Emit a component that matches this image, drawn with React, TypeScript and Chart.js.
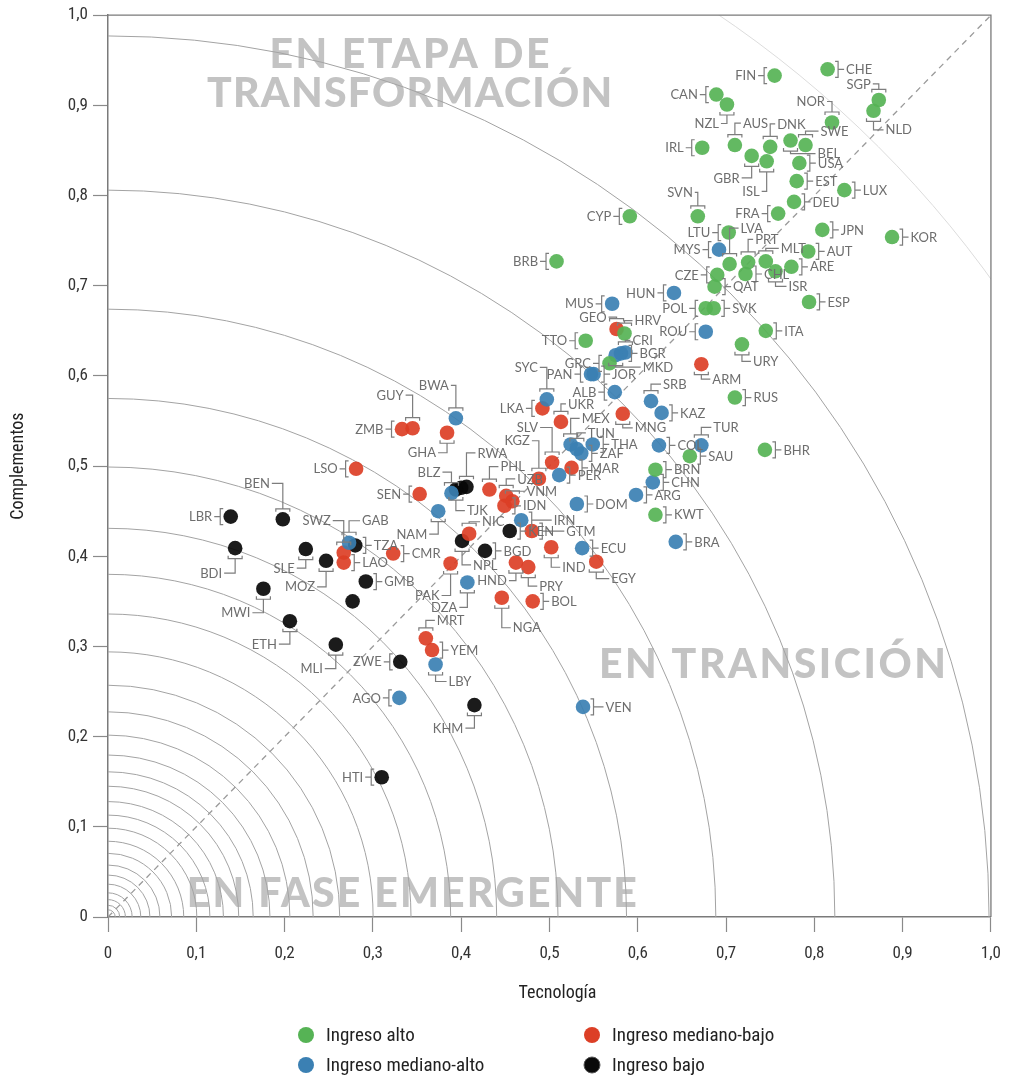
import React, { useEffect, useRef } from "react";
import { Chart, registerables } from "chart.js";
Chart.register(...registerables);

// ---------- data ----------
const tickLabels = ["0", "0,1", "0,2", "0,3", "0,4", "0,5", "0,6", "0,7", "0,8", "0,9", "1,0"];
const xTitle = "Tecnología";
const yTitle = "Complementos";
const seriesNames = ["Ingreso alto", "Ingreso mediano-alto", "Ingreso mediano-bajo", "Ingreso bajo"];

// [country, tecnología, complementos]
const highIncome: [string, number, number][] = [
  ["FIN", 0.755, 0.933], ["CHE", 0.815, 0.94], ["SGP", 0.873, 0.906], ["NLD", 0.867, 0.894],
  ["CAN", 0.689, 0.912], ["NZL", 0.701, 0.901], ["NOR", 0.82, 0.881], ["IRL", 0.673, 0.853],
  ["AUS", 0.71, 0.856], ["DNK", 0.75, 0.854], ["BEL", 0.773, 0.861], ["SWE", 0.79, 0.856],
  ["GBR", 0.729, 0.844], ["ISL", 0.746, 0.838], ["USA", 0.783, 0.836], ["EST", 0.78, 0.816],
  ["LUX", 0.834, 0.806], ["DEU", 0.777, 0.793], ["SVN", 0.668, 0.777], ["CYP", 0.591, 0.777],
  ["FRA", 0.759, 0.78], ["LTU", 0.703, 0.759], ["JPN", 0.809, 0.762], ["KOR", 0.888, 0.754],
  ["AUT", 0.793, 0.738], ["LVA", 0.704, 0.724], ["PRT", 0.725, 0.726], ["MLT", 0.745, 0.727],
  ["ARE", 0.774, 0.721], ["CHL", 0.722, 0.713], ["ISR", 0.756, 0.716], ["CZE", 0.69, 0.712],
  ["QAT", 0.687, 0.699], ["POL", 0.677, 0.675], ["SVK", 0.686, 0.675], ["ESP", 0.794, 0.682],
  ["ITA", 0.745, 0.65], ["URY", 0.718, 0.635], ["RUS", 0.71, 0.576], ["BRB", 0.508, 0.727],
  ["TTO", 0.541, 0.639], ["HRV", 0.585, 0.647], ["GRC", 0.568, 0.614], ["BHR", 0.744, 0.518],
  ["SAU", 0.659, 0.511], ["BRN", 0.62, 0.496], ["KWT", 0.62, 0.446],
];

const upperMiddleIncome: [string, number, number][] = [
  ["MYS", 0.692, 0.74], ["HUN", 0.641, 0.692], ["MUS", 0.571, 0.68], ["ROU", 0.677, 0.649],
  ["CRI", 0.586, 0.626], ["BGR", 0.581, 0.625], ["MKD", 0.575, 0.623], ["PAN", 0.547, 0.602],
  ["JOR", 0.55, 0.602], ["SYC", 0.497, 0.574], ["ALB", 0.574, 0.582], ["SRB", 0.615, 0.572],
  ["KAZ", 0.627, 0.559], ["MEX", 0.524, 0.524], ["TUN", 0.531, 0.519], ["ZAF", 0.536, 0.514],
  ["THA", 0.549, 0.524], ["COL", 0.624, 0.523], ["TUR", 0.672, 0.523], ["CHN", 0.617, 0.482],
  ["ARG", 0.598, 0.468], ["DOM", 0.531, 0.458], ["PER", 0.511, 0.49], ["BWA", 0.394, 0.553],
  ["BLZ", 0.389, 0.47], ["NAM", 0.374, 0.45], ["IRN", 0.468, 0.44], ["ECU", 0.537, 0.409],
  ["BRA", 0.643, 0.416], ["DZA", 0.407, 0.371], ["LBY", 0.371, 0.28], ["AGO", 0.33, 0.243],
  ["VEN", 0.538, 0.233], ["GAB", 0.273, 0.415],
];

const lowerMiddleIncome: [string, number, number][] = [
  ["GEO", 0.576, 0.652], ["ARM", 0.672, 0.613], ["LKA", 0.492, 0.564], ["UKR", 0.513, 0.549],
  ["MNG", 0.583, 0.558], ["SLV", 0.503, 0.504], ["KGZ", 0.488, 0.486], ["MAR", 0.525, 0.498],
  ["UZB", 0.451, 0.467], ["VNM", 0.458, 0.461], ["IDN", 0.449, 0.456], ["PHL", 0.432, 0.474],
  ["GHA", 0.384, 0.537], ["ZMB", 0.333, 0.541], ["GUY", 0.345, 0.542], ["LSO", 0.281, 0.497],
  ["SEN", 0.353, 0.469], ["NIC", 0.409, 0.425], ["GTM", 0.48, 0.428], ["IND", 0.502, 0.41],
  ["HND", 0.462, 0.393], ["PRY", 0.476, 0.388], ["EGY", 0.553, 0.394], ["PAK", 0.388, 0.392],
  ["CMR", 0.323, 0.403], ["SWZ", 0.267, 0.404], ["LAO", 0.267, 0.393], ["NGA", 0.446, 0.354],
  ["BOL", 0.481, 0.35], ["MRT", 0.36, 0.309], ["YEM", 0.367, 0.296],
];

const lowIncome: [string, number, number][] = [
  ["LBR", 0.139, 0.444], ["BEN", 0.198, 0.441], ["BDI", 0.144, 0.409], ["SLE", 0.224, 0.408],
  ["MOZ", 0.247, 0.395], ["TZA", 0.28, 0.412], ["GMB", 0.292, 0.372], ["", 0.277, 0.35],
  ["MWI", 0.176, 0.364], ["ETH", 0.206, 0.328], ["MLI", 0.258, 0.302], ["ZWE", 0.331, 0.283],
  ["KHM", 0.415, 0.235], ["HTI", 0.31, 0.155], ["RWA", 0.406, 0.477], ["", 0.4, 0.476],
  ["TJK", 0.394, 0.474], ["KEN", 0.455, 0.428], ["NPL", 0.401, 0.417], ["BGD", 0.427, 0.406],
];

// concentric reference arcs (radius read on the Complementos axis)
const arcRadii = [
  0.977, 0.806, 0.674, 0.575, 0.499, 0.431, 0.38, 0.336, 0.294, 0.257, 0.2275, 0.2017, 0.1796,
  0.161, 0.145, 0.128, 0.113, 0.0985, 0.084, 0.0706, 0.0576, 0.0465, 0.0364, 0.0268, 0.0193,
  0.013, 0.008,
];
const outerArcRadii = [1.208];

// ---------- styling / layout ----------
const colors = ["rgba(86,179,85,0.92)", "rgba(59,128,179,0.92)", "rgba(220,63,38,0.92)", "rgba(8,8,8,0.92)"];
const legendColors = ["#56b355", "#3b80b3", "#dc3f26", "#0a0a0a"];

// label placement: side, dx, dy
const labelPlacement: Record<string, [string, number, number]> = {
  FIN: ["L", 0, 0], CHE: ["R", 0, 0], SGP: ["T", -6, -16], NLD: ["B", 10, 19], CAN: ["L", 0, 0],
  NZL: ["B", -6, 19], NOR: ["T", -5, -21], IRL: ["L", 0, 0], AUS: ["T", 6, -22], DNK: ["T", 5, -23],
  SWE: ["T", 13, -14], BEL: ["B", 25, 13], GBR: ["B", -10, 22], ISL: ["B", -5, 30], USA: ["R", 0, 0],
  EST: ["R", 0, 0], LUX: ["R", 0, 0], DEU: ["R", 0, 0], SVN: ["T", -3, -24], CYP: ["L", 0, 0],
  FRA: ["L", 0, 0], LTU: ["L", 0, 0], LVA: ["T", 9, -36], JPN: ["R", 0, 0], KOR: ["R", 0, 0],
  MYS: ["L", 0, 0], PRT: ["T", 5, -23], MLT: ["T", 13, -13], AUT: ["R", 0, 0], ARE: ["R", 0, 0],
  CHL: ["R", 0, 0], ISR: ["B", 11, 15], CZE: ["L", 0, 0], QAT: ["R", 0, 0], POL: ["L", 0, 0],
  SVK: ["R", 0, 0], ESP: ["R", 0, 0], HUN: ["L", 0, 0], MUS: ["L", 0, 0], ROU: ["L", 0, 0],
  ITA: ["R", 0, 0], URY: ["B", 9, 17], ARM: ["B", 9, 15], RUS: ["R", 0, 0], TTO: ["L", 0, 0],
  BRB: ["L", 0, 0],
  GEO: ["T", -8, -12], HRV: ["T", 8, -13], CRI: ["T", 5, -12], BGR: ["R", 0, 0], MKD: ["B", 25, 12],
  GRC: ["L", 0, 0], PAN: ["L", 0, 0], JOR: ["R", 0, 0], SYC: ["T", -7, -32], LKA: ["L", 0, 0],
  UKR: ["T", 5, -18], ALB: ["L", 0, 0], SRB: ["T", 10, -17], KAZ: ["R", 0, 0], MEX: ["T", 9, -26],
  MNG: ["B", 10, 14], SLV: ["T", -12, -35], TUN: ["T", 9, -16], THA: ["R", 0, 0], ZAF: ["R", 0, 0],
  KGZ: ["T", -7, -38], MAR: ["R", 0, 0], PER: ["R", 0, 0], COL: ["R", 0, 0], TUR: ["T", 10, -18],
  SAU: ["R", 0, 0], BHR: ["R", 0, 0], BRN: ["R", 0, 0], CHN: ["R", 0, 0], ARG: ["R", 0, 0],
  DOM: ["R", 0, 0], KWT: ["R", 0, 0], BRA: ["R", 0, 0], ECU: ["R", 0, 0], EGY: ["B", 13, 17],
  IND: ["B", 9, 20], HND: ["B", -7, 18], PRY: ["B", 9, 19], NGA: ["B", 9, 30], DZA: ["B", -8, 25],
  PAK: ["B", -9, 32], NPL: ["B", 9, 24], BGD: ["R", 0, 0], NIC: ["T", 11, -12], GTM: ["R", 16, 0],
  KEN: ["R", 0, 0], IRN: ["R", 14, 0], VEN: ["R", 4, 0], BOL: ["R", 0, 0], UZB: ["T", 9, -17],
  VNM: ["T", 12, -10], IDN: ["R", 0, 0], PHL: ["T", 9, -23], RWA: ["T", 9, -34], BLZ: ["T", -9, -21],
  TJK: ["B", 9, 21], SEN: ["L", 0, 0], NAM: ["B", -9, 23], GHA: ["B", -9, 20], BWA: ["T", -5, -33],
  GUY: ["T", -7, -33], ZMB: ["L", 0, 0], LSO: ["L", 0, 0], BEN: ["T", -11, -36], LBR: ["L", 0, 0],
  SWZ: ["T", -11, -32], GAB: ["T", 11, -22], TZA: ["R", 0, 0], LAO: ["R", 0, 0], CMR: ["R", 0, 0],
  SLE: ["B", -9, 19], MOZ: ["B", -9, 26], BDI: ["B", -11, 25], GMB: ["R", 0, 0], MWI: ["B", -11, 24],
  ETH: ["B", -11, 23], MLI: ["B", -11, 24], ZWE: ["L", 0, 0], MRT: ["T", 9, -18], YEM: ["R", 0, 0],
  LBY: ["B", 11, 17], AGO: ["L", 0, 0], KHM: ["B", -9, 23], HTI: ["L", 0, 0],
};

// region captions in data coordinates: text, x start, x end, baseline y
const regionCaptions: [string, number, number, number][] = [
  ["EN ETAPA DE", 0.183, 0.5, 0.942],
  ["TRANSFORMACIÓN", 0.112, 0.571, 0.898],
  ["EN TRANSICIÓN", 0.556, 0.949, 0.265],
  ["EN FASE EMERGENTE", 0.0893, 0.599, 0.0116],
];

const POINT_R = 7.3;
const LABEL_FONT = "13px Lato, 'Noto Sans', sans-serif";
const TICK_FONT_FAMILY = "'Liberation Sans Narrow', 'Roboto Condensed', Roboto, Lato, sans-serif";

function drawLabel(ctx: CanvasRenderingContext2D, px: number, py: number, code: string, place: [string, number, number]) {
  const [side, a, b] = place;
  const r = 7;
  ctx.strokeStyle = "#7d7d7d";
  ctx.lineWidth = 1.2;
  ctx.fillStyle = "#6e6e6e";
  ctx.font = LABEL_FONT;
  ctx.textBaseline = "middle";
  if (side === "L" || side === "R") {
    const s = side === "L" ? -1 : 1;
    const bx = px + s * (r + 3.5);
    ctx.beginPath();
    ctx.moveTo(bx - s * 3, py - 8);
    ctx.lineTo(bx, py - 8);
    ctx.lineTo(bx, py + 8);
    ctx.lineTo(bx - s * 3, py + 8);
    ctx.moveTo(bx, py);
    ctx.lineTo(bx + s * (6 + a), py);
    ctx.stroke();
    ctx.textAlign = side === "L" ? "right" : "left";
    ctx.fillText(code, bx + s * (8 + a), py + 0.5);
  } else {
    const s = side === "T" ? -1 : 1;
    const by = py + s * (r + 3.5);
    ctx.beginPath();
    ctx.moveTo(px - 7, by - s * 3);
    ctx.lineTo(px - 7, by);
    ctx.lineTo(px + 7, by);
    ctx.lineTo(px + 7, by - s * 3);
    ctx.moveTo(px, by);
    ctx.lineTo(px, py + b);
    ctx.lineTo(px + a, py + b);
    ctx.stroke();
    ctx.textAlign = a < 0 ? "right" : "left";
    ctx.fillText(code, px + a + (a < 0 ? -2 : 2), py + b + 0.5);
  }
}

const backgroundPlugin = {
  id: "background",
  beforeDatasetsDraw(chart: any) {
    const { ctx, chartArea } = chart;
    const xs = chart.scales.x;
    const ys = chart.scales.y;
    const x0 = xs.getPixelForValue(0);
    const y0 = ys.getPixelForValue(0);
    ctx.save();
    ctx.beginPath();
    ctx.rect(chartArea.left, chartArea.top, chartArea.right - chartArea.left, chartArea.bottom - chartArea.top);
    ctx.clip();

    // region captions
    ctx.fillStyle = "#c3c3c3";
    ctx.font = "900 41px Lato, 'Open Sans', sans-serif";
    ctx.textBaseline = "alphabetic";
    ctx.textAlign = "left";
    for (const [text, xa, xb, yb] of regionCaptions) {
      const p1 = xs.getPixelForValue(xa);
      const p2 = xs.getPixelForValue(xb);
      const py = ys.getPixelForValue(yb);
      (ctx as any).letterSpacing = "0px";
      const w = ctx.measureText(text).width;
      const n = Array.from(text).length;
      const sp = (p2 - p1 - w) / (n - 1);
      (ctx as any).letterSpacing = sp + "px";
      ctx.fillText(text, p1, py);
      (ctx as any).letterSpacing = "0px";
    }

    // arcs
    ctx.lineWidth = 1;
    ctx.strokeStyle = "#dcdcdc";
    for (const r of outerArcRadii) {
      const R = y0 - ys.getPixelForValue(r);
      ctx.beginPath();
      ctx.arc(x0, y0, R, -Math.PI / 2, 0);
      ctx.stroke();
    }
    ctx.strokeStyle = "#a3a3a3";
    for (const r of arcRadii) {
      const R = y0 - ys.getPixelForValue(r);
      ctx.beginPath();
      ctx.arc(x0, y0, R, -Math.PI / 2, 0);
      ctx.stroke();
    }
    // diagonal
    ctx.setLineDash([6, 5]);
    ctx.strokeStyle = "#9a9a9a";
    ctx.lineWidth = 1.3;
    ctx.beginPath();
    ctx.moveTo(x0, y0);
    ctx.lineTo(xs.getPixelForValue(1), ys.getPixelForValue(1));
    ctx.stroke();
    ctx.setLineDash([]);
    ctx.restore();

    // frame (top and right)
    ctx.save();
    ctx.strokeStyle = "#7a7a7a";
    ctx.lineWidth = 1.3;
    ctx.beginPath();
    ctx.moveTo(chartArea.left, chartArea.top);
    ctx.lineTo(chartArea.right, chartArea.top);
    ctx.lineTo(chartArea.right, chartArea.bottom);
    ctx.stroke();
    ctx.restore();
  },
  afterDatasetsDraw(chart: any) {
    const { ctx } = chart;
    ctx.save();
    chart.data.datasets.forEach((ds: any, i: number) => {
      const meta = chart.getDatasetMeta(i);
      meta.data.forEach((el: any, j: number) => {
        const code = ds.codes[j];
        if (!code) return;
        const place = labelPlacement[code] || ["R", 0, 0];
        drawLabel(ctx, el.x, el.y, code, place);
      });
    });
    ctx.restore();
  },
  afterDraw(chart: any) {
    const { ctx, chartArea } = chart;
    ctx.save();
    ctx.fillStyle = "#222";
    ctx.font = "18px " + TICK_FONT_FAMILY;
    ctx.textAlign = "center";
    ctx.textBaseline = "middle";
    ctx.fillText(xTitle, (chartArea.left + chartArea.right) / 2 + 8, 993);
    ctx.save();
    ctx.translate(18, (chartArea.top + chartArea.bottom) / 2);
    ctx.rotate(-Math.PI / 2);
    ctx.fillText(yTitle, 0, 0);
    ctx.restore();

    // legend
    const cols = [306, 592];
    const rows = [1035, 1065];
    ctx.textAlign = "left";
    ctx.font = "19px " + TICK_FONT_FAMILY;
    const order = [0, 2, 1, 3];
    order.forEach((si, k) => {
      const cx = cols[k % 2];
      const cy = rows[Math.floor(k / 2)];
      ctx.beginPath();
      ctx.arc(cx, cy, 8, 0, Math.PI * 2);
      ctx.fillStyle = legendColors[si];
      ctx.fill();
      if (si === 3) {
        ctx.strokeStyle = "#555";
        ctx.lineWidth = 1;
        ctx.stroke();
      }
      ctx.fillStyle = "#222";
      ctx.fillText(seriesNames[si], cx + 20, cy + 1);
    });
    ctx.restore();
  },
};

function toPoints(list: [string, number, number][]) {
  return list.map(([, x, y]) => ({ x, y }));
}

export default function App() {
  const ref = useRef<HTMLCanvasElement | null>(null);
  useEffect(() => {
    if (!ref.current) return;
    const groups = [highIncome, upperMiddleIncome, lowerMiddleIncome, lowIncome];
    const axisCommon = (pos: string) => ({
      type: "linear" as const,
      min: 0,
      max: 1,
      position: pos,
      grid: {
        drawOnChartArea: false,
        drawTicks: true,
        tickLength: 15,
        tickColor: "#8a8a8a",
        tickWidth: 1.2,
      },
      border: { display: true, color: "#7a7a7a", width: 1.5 },
      ticks: {
        stepSize: 0.1,
        color: "#333",
        font: { size: 17, family: TICK_FONT_FAMILY },
        callback: (v: any) => tickLabels[Math.round(Number(v) * 10)],
      },
    });
    const xAxis: any = axisCommon("bottom");
    xAxis.ticks.padding = 12;
    xAxis.ticks.maxRotation = 0;
    xAxis.afterFit = (s: any) => { s.height = 163; };
    const yAxis: any = axisCommon("left");
    yAxis.ticks.padding = 5;
    yAxis.afterFit = (s: any) => { s.width = 108; };

    const chart = new Chart(ref.current, {
      type: "scatter",
      data: {
        datasets: groups.map((g, i) => ({
          label: seriesNames[i],
          data: toPoints(g),
          codes: g.map((d) => d[0]),
          backgroundColor: colors[i],
          borderWidth: 0,
          pointRadius: POINT_R,
          pointHoverRadius: POINT_R,
        })) as any,
      },
      options: {
        animation: false,
        responsive: false,
        maintainAspectRatio: false,
        layout: { padding: { top: 13, right: 20, left: 0, bottom: 0 } },
        plugins: { legend: { display: false }, tooltip: { enabled: false } },
        scales: { x: xAxis, y: yAxis },
      },
      plugins: [backgroundPlugin],
    });
    return () => chart.destroy();
  }, []);
  return (
    <div style={{ position: "absolute", left: 0, top: 0, width: 1013, height: 1080, background: "#fff" }}>
      <canvas ref={ref} width={1013} height={1080} style={{ display: "block" }} />
    </div>
  );
}
